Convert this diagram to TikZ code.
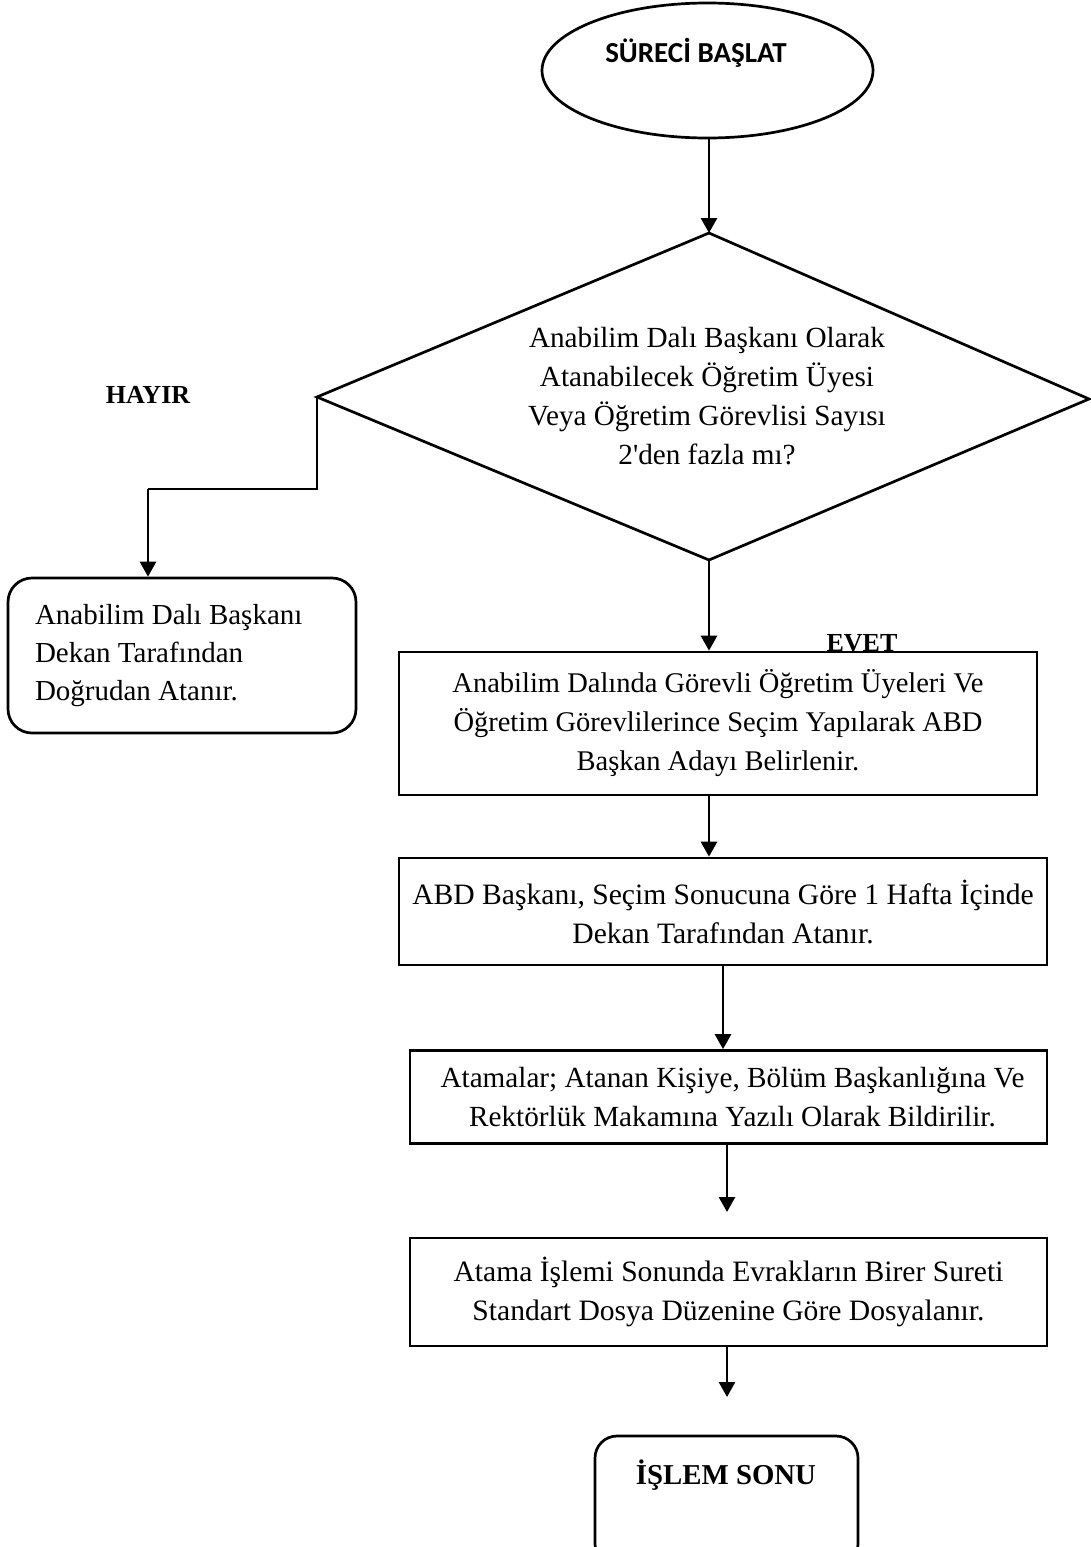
\documentclass[tikz,border=0pt]{standalone}
\usepackage{fontspec}
\setmainfont{Liberation Serif}
\newfontfamily\calibri{Carlito}
\usetikzlibrary{shapes.geometric,arrows.meta}
\begin{document}
\begin{tikzpicture}[x=1pt,y=-1pt,
  lw/.style={line width=2.7pt},
  arr/.style={lw,-{Triangle[length=15pt,width=16pt]}},
  txt/.style={font=\fontsize{29.2}{39}\selectfont, inner sep=0pt},
  boldtxt/.style={font=\fontsize{26}{30}\selectfont\bfseries, inner sep=0pt},
  procbox/.style={draw,lw,rectangle,inner sep=0pt,align=center,font=\fontsize{29.6}{39}\selectfont},
  roundbox/.style={draw,lw,rectangle,rounded corners=24pt,inner sep=0pt}
]
\useasboundingbox (0,0) rectangle (1090,1547);

% start ellipse
\node[draw,lw,ellipse,minimum width=331pt,minimum height=135pt,inner sep=0pt] (start) at (707.5,70.5) {};
\node[inner sep=0pt,font=\fontsize{29}{30}\selectfont\calibri\bfseries] (startlbl) at (696,53) {SÜRECİ BAŞLAT};

% decision diamond
\coordinate (dtop) at (709,233);
\coordinate (dleft) at (317,397);
\coordinate (dright) at (1089,399);
\coordinate (dbot) at (709,560);
\draw[lw,line join=miter] (dtop) -- (dright) -- (dbot) -- (dleft) -- cycle;
\node[txt,align=center] (dtxt) at (707,396) {Anabilim Dalı Başkanı Olarak\\Atanabilecek Öğretim Üyesi\\Veya Öğretim Görevlisi Sayısı\\2\textquotesingle den fazla mı?};

\draw[arr] (start.south -| dtop) -- (dtop);

% NO branch
\node[boldtxt] (hayir) at (148,395) {HAYIR};
\node[roundbox,minimum width=348pt,minimum height=155pt,text width=294pt,align=flush left,font=\fontsize{29}{38}\selectfont] (lb) at (182,655.5) {Anabilim Dalı Başkanı\\Dekan Tarafından\\Doğrudan Atanır.};
\coordinate (bend) at (148,489);
\draw[lw,line join=miter] (dleft) |- (bend);
\draw[arr] (bend) -- (bend |- lb.north);

% YES branch
\node[procbox,font=\fontsize{28.5}{39}\selectfont,minimum width=638pt,minimum height=143pt] (b1) at (718,723.5) {Anabilim Dalında Görevli Öğretim Üyeleri Ve\\Öğretim Görevlilerince Seçim Yapılarak ABD\\Başkan Adayı Belirlenir.};
\node[boldtxt,anchor=base] (evet) at (862,651) {EVET};
\draw[arr] (dbot) -- (dbot |- b1.north);

\node[procbox,minimum width=648pt,minimum height=107pt] (b2) at (723,911.5) {ABD Başkanı, Seçim Sonucuna Göre 1 Hafta İçinde\\Dekan Tarafından Atanır.};
\draw[arr] (b1.south -| dbot) -- (b2.north -| dbot);

\node[procbox,font=\fontsize{29.2}{39}\selectfont,minimum width=637pt,minimum height=93pt] (b3) at (728.5,1097) {\hspace*{8pt}Atamalar; Atanan Kişiye, Bölüm Başkanlığına Ve\\\hspace*{8pt}Rektörlük Makamına Yazılı Olarak Bildirilir.};
\draw[arr] (b2.south) -- (b2.south |- b3.north);

\node[procbox,minimum width=637pt,minimum height=108pt] (b4) at (728.5,1292) {Atama İşlemi Sonunda Evrakların Birer Sureti\\Standart Dosya Düzenine Göre Dosyalanır.};
\coordinate (t4) at (727,1212);
\draw[arr] (b3.south -| t4) -- (t4);

% end
\node[roundbox,rounded corners=22pt,minimum width=263pt,minimum height=130pt] (end) at (726.5,1501) {};
\node[inner sep=0pt,font=\fontsize{28.8}{30}\selectfont\bfseries] (endlbl) at (726,1475) {İŞLEM SONU};
\coordinate (t5) at (727,1397);
\draw[arr] (b4.south -| t5) -- (t5);
\end{tikzpicture}
\end{document}
